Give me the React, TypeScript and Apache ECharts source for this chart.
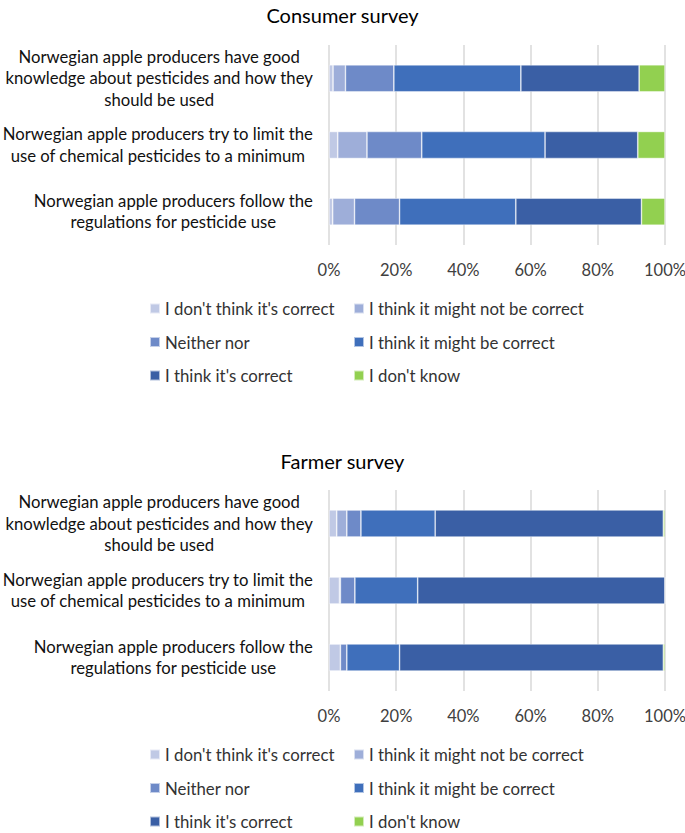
import React, { useEffect, useRef } from "react";
import * as echarts from "echarts";

const categories = [
  "Norwegian apple producers have good\nknowledge about pesticides and how they\nshould be used",
  "Norwegian apple producers try to limit the\nuse of chemical pesticides to a minimum",
  "Norwegian apple producers follow the\nregulations for pesticide use",
];

const seriesNames = [
  "I don't think it's correct",
  "I think it might not be correct",
  "Neither nor",
  "I think it might be correct",
  "I think it's correct",
  "I don't know",
];

const colors = ["#c0c9e5", "#9eaed9", "#6e8ac8", "#3f6fbb", "#3a5fa5", "#92d050"];

// Consumer survey (%), per series, categories top to bottom
const consumerNotCorrect = [1.2, 2.6, 1.1];
const consumerMightNot = [3.7, 8.7, 6.5];
const consumerNeither = [14.4, 16.3, 13.4];
const consumerMightBe = [37.8, 36.7, 34.6];
const consumerCorrect = [35.2, 27.6, 37.4];
const consumerDontKnow = [7.7, 8.1, 7.0];

// Farmer survey (%)
const farmerNotCorrect = [2.3, 3.1, 3.4];
const farmerMightNot = [3.0, 0.3, 0];
const farmerNeither = [4.2, 4.3, 1.9];
const farmerMightBe = [22.1, 18.7, 15.7];
const farmerCorrect = [67.9, 73.6, 78.5];
const farmerDontKnow = [0.5, 0, 0.5];

const xTicks = [0, 20, 40, 60, 80, 100];

const FONT = "Lato";

export default function App() {
  const ref = useRef<HTMLDivElement>(null);
  useEffect(() => {
    document.body.style.margin = "0";
    if (!ref.current) return;
    const chart = echarts.init(ref.current, undefined, { renderer: "svg" });
    const consumer = [
      consumerNotCorrect,
      consumerMightNot,
      consumerNeither,
      consumerMightBe,
      consumerCorrect,
      consumerDontKnow,
    ];
    const farmer = [
      farmerNotCorrect,
      farmerMightNot,
      farmerNeither,
      farmerMightBe,
      farmerCorrect,
      farmerDontKnow,
    ];
    const mkX = (i: number) => ({
      type: "value",
      gridIndex: i,
      min: xTicks[0],
      max: xTicks[xTicks.length - 1],
      interval: 20,
      axisLine: { show: false },
      axisTick: { show: false },
      splitLine: { show: true, lineStyle: { color: "#d9d9d9", width: 1.5 } },
      axisLabel: {
        formatter: "{value}%",
        fontSize: 16.5,
        fontFamily: FONT,
        color: "#404040",
        margin: 16,
      },
    });
    const mkY = (i: number) => ({
      type: "category",
      gridIndex: i,
      data: categories,
      inverse: true,
      axisLine: { show: false },
      axisTick: { show: false },
      axisLabel: {
        margin: 16,
        formatter: (v: string) =>
          v
            .split("\n")
            .map((l) => `{c|${l}}`)
            .join("\n"),
        rich: {
          c: {
            align: "center",
            fontSize: 16.7,
            lineHeight: 21.5,
            fontFamily: FONT,
            color: "#111",
          },
        },
      },
    });
    const mkSeries = (data: number[][], idx: number, stack: string) =>
      data.map((d, k) => ({
        name: seriesNames[k],
        type: "bar",
        stack,
        xAxisIndex: idx,
        yAxisIndex: idx,
        barWidth: 27,
        data: d,
        itemStyle: {
          color: colors[k],
          borderColor: "rgba(255,255,255,0.6)",
          borderWidth: 0.7,
        },
      }));
    const mkLegend = (left: number, top: number, names: string[]) => ({
      orient: "vertical",
      left,
      top,
      padding: 0,
      icon: "rect",
      itemWidth: 10,
      itemHeight: 10,
      itemGap: 16.5,
      selectedMode: false,
      data: names,
      textStyle: {
        fontSize: 16.8,
        lineHeight: 16,
        fontFamily: FONT,
        color: "#333",
        padding: [0, 0, 0, 0],
      },
    });
    const col1 = [seriesNames[0], seriesNames[2], seriesNames[4]];
    const col2 = [seriesNames[1], seriesNames[3], seriesNames[5]];
    chart.setOption({
      animation: false,
      color: colors,
      title: [
        {
          text: "Consumer survey",
          left: "center",
          top: 0,
          textStyle: { fontSize: 20, fontWeight: "normal", fontFamily: FONT, color: "#000" },
        },
        {
          text: "Farmer survey",
          left: "center",
          top: 446,
          textStyle: { fontSize: 20, fontWeight: "normal", fontFamily: FONT, color: "#000" },
        },
      ],
      legend: [
        mkLegend(149, 300, col1),
        mkLegend(353, 300, col2),
        mkLegend(149, 746, col1),
        mkLegend(353, 746, col2),
      ],
      grid: [
        { left: 329, right: 20, top: 45, height: 200, outerBoundsMode: "none", containLabel: false },
        { left: 329, right: 20, top: 490, height: 201, outerBoundsMode: "none", containLabel: false },
      ],
      xAxis: [mkX(0), mkX(1)],
      yAxis: [mkY(0), mkY(1)],
      series: [...mkSeries(consumer, 0, "consumer"), ...mkSeries(farmer, 1, "farmer")],
    });
    return () => chart.dispose();
  }, []);
  return <div ref={ref} style={{ width: 685, height: 833 }} />;
}
